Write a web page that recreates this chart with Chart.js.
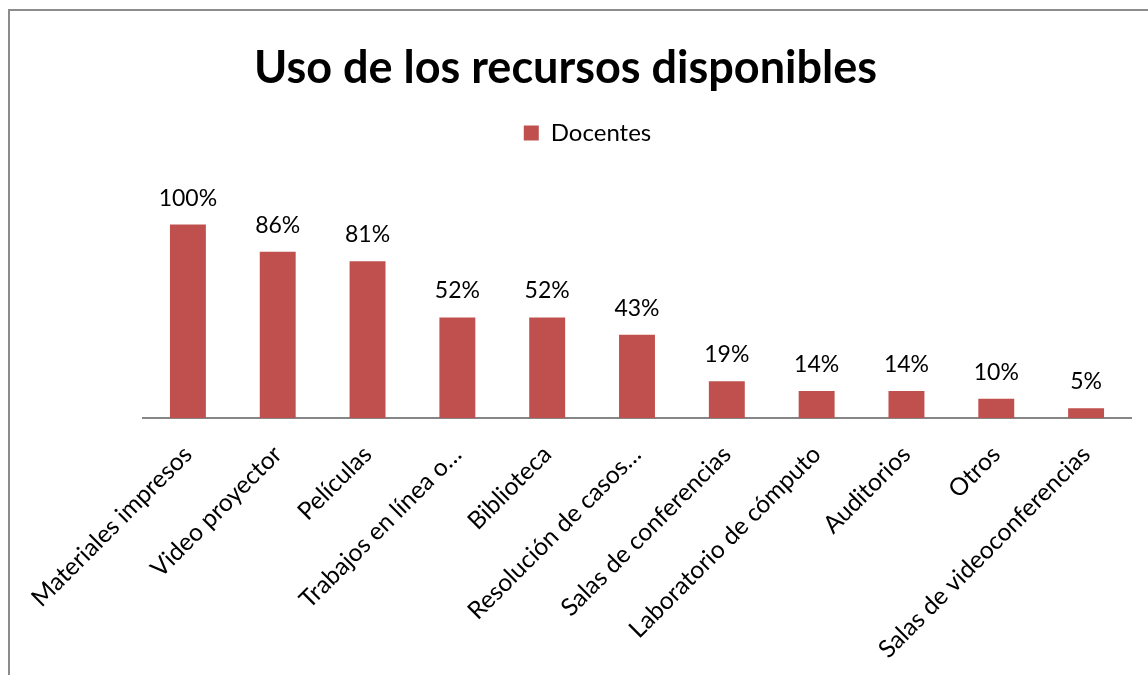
<!DOCTYPE html>
<html>
<head>
<meta charset="utf-8">
<script src="https://cdn.jsdelivr.net/npm/chart.js@4/dist/chart.umd.min.js"></script>
<style>
  body { margin: 0; background: #fff; }
  #marco { position: absolute; left: 8px; top: 9px; width: 1200px; height: 700px; border: 2px solid #8c8c8c; }
  #recursosChart { position: absolute; left: 0; top: 0; }
</style>
</head>
<body>
<div id="marco"></div>
<canvas id="recursosChart" width="1148" height="675"></canvas>
<script>
// datos
const categorias = ['Materiales impresos', 'Video proyector', 'Películas', 'Trabajos en línea o…', 'Biblioteca', 'Resolución de casos…', 'Salas de conferencias', 'Laboratorio de cómputo', 'Auditorios', 'Otros', 'Salas de videoconferencias'];
const docentes = [100, 86, 81, 52, 52, 43, 19, 14, 14, 10, 5];
const serieNombre = 'Docentes';
const titulo = 'Uso de los recursos disponibles';

const fuente = 'Lato, "Open Sans", sans-serif';
Chart.defaults.color = '#000000';
Chart.defaults.font.family = fuente;

// etiquetas de porcentaje arriba de cada barra
const etiquetasPlugin = {
    id: 'etiquetas',
    afterLayout(chart) {
        // la leyenda del original esta un poco corrida a la derecha
        chart.legend.left += 22;
        chart.legend.right += 22;
    },
    afterDatasetsDraw(chart) {
        const ctx = chart.ctx;
        const meta = chart.getDatasetMeta(0);
        ctx.save();
        ctx.font = '23px ' + fuente;
        ctx.fillStyle = '#000';
        ctx.textAlign = 'center';
        ctx.textBaseline = 'alphabetic';
        meta.data.forEach((bar, i) => {
            ctx.fillText(docentes[i] + '%', bar.x, bar.y - 19);
        });
        ctx.restore();
    }
};

const data = {
    labels: categorias,
    datasets: [{
        label: serieNombre,
        data: docentes,
        backgroundColor: '#C0504D',
        borderWidth: 0,
        categoryPercentage: 1,
        barPercentage: 0.4,
    }]
};

const options = {
    responsive: false,
    animation: false,
    layout: { padding: { left: 0, right: 17, top: 0, bottom: 0 } },
    plugins: {
        title: {
            display: true,
            text: titulo,
            font: { size: 45, weight: 'bold', family: fuente },
            padding: { top: 41, bottom: 16 },
        },
        legend: {
            display: true,
            labels: { boxWidth: 15, boxHeight: 15, font: { size: 24 }, padding: 10 },
        },
        tooltip: { enabled: false },
    },
    scales: {
        x: {
            grid: { display: false },
            border: { display: true, color: '#868686', width: 2 },
            ticks: { minRotation: 45, maxRotation: 45, font: { size: 24.5 }, padding: 14, autoSkip: false },
            afterFit: scale => { scale.height = 257; },
        },
        y: {
            // eje invisible, solo reserva el margen izquierdo
            display: true,
            min: 0,
            max: 136,
            grid: { display: false },
            border: { display: false },
            ticks: { display: false },
            afterFit: scale => { scale.width = 143; },
        }
    }
};

new Chart('recursosChart', {
    type: 'bar',
    data,
    options,
    plugins: [etiquetasPlugin]
});
</script>
</body>
</html>
